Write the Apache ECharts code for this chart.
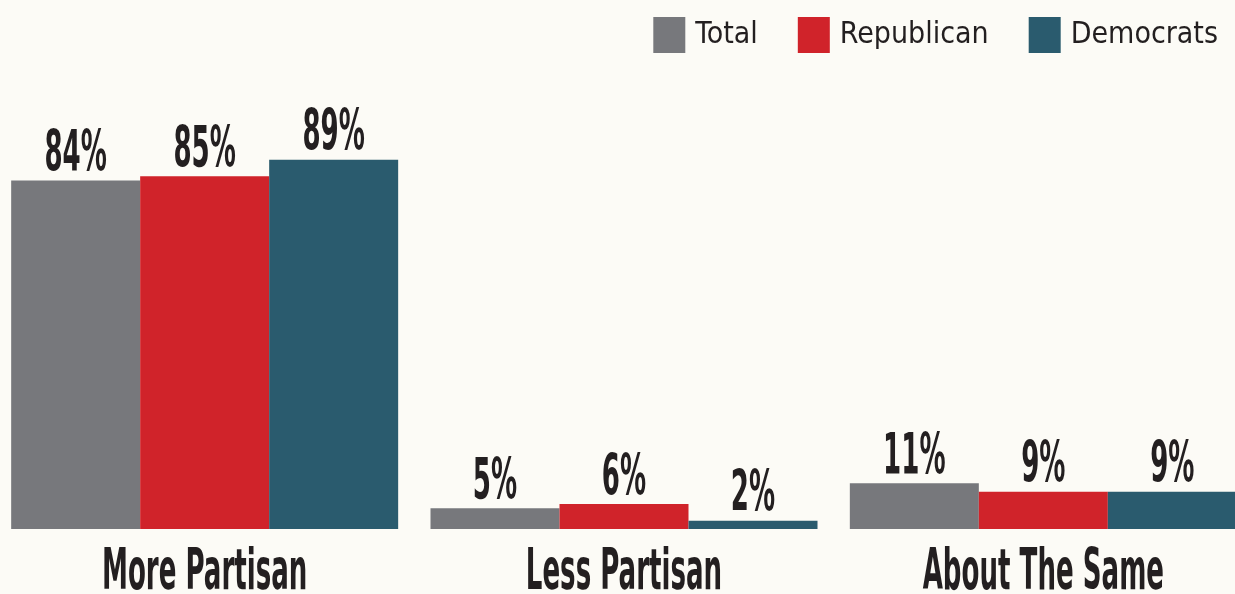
<!DOCTYPE html>
<html>
<head>
<meta charset="utf-8">
<script src="https://cdn.jsdelivr.net/npm/echarts@6/dist/echarts.min.js"></script>
<style>
  html, body { margin: 0; padding: 0; background: #fcfbf6; }
  #chart { width: 1235px; height: 594px; }
</style>
</head>
<body>
<div id="chart"></div>
<script>
// Survey answers: has politics become more or less partisan?
const categories = ['More Partisan', 'Less Partisan', 'About The Same'];
const seriesNames = ['Total', 'Republican', 'Democrats'];
const totalValues = [84, 5, 11];
const republicanValues = [85, 6, 9];
const democratValues = [89, 2, 9];

const valueSets = [totalValues, republicanValues, democratValues];
const colors = ['#77787c', '#d0232a', '#2a5b6e'];
const BAR_W = 129;
const TEXT = '#231f20';
const FONT = "'DejaVu Sans Condensed', 'Liberation Sans Narrow', sans-serif";
const STRETCH = 1.95;

const chart = echarts.init(document.getElementById('chart'));

// Bars for each group
const barSeries = seriesNames.map((name, i) => ({
  name: name,
  type: 'bar',
  barWidth: BAR_W,
  barGap: '0%',
  itemStyle: { color: colors[i] },
  data: valueSets[i],
  silent: true
}));

// Tall condensed value labels above each bar
const valueLabelSeries = seriesNames.map((name, i) => ({
  name: name + ' label',
  type: 'custom',
  silent: true,
  data: valueSets[i].map((v, c) => [c, v]),
  renderItem: function (params, api) {
    const p = api.coord([api.value(0), api.value(1)]);
    return {
      type: 'text',
      x: p[0] + (i - 1) * BAR_W,
      y: p[1] + 4,
      scaleY: STRETCH,
      style: {
        text: api.value(1) + '%',
        fill: TEXT,
        font: 'bold 29px ' + FONT,
        align: 'center',
        verticalAlign: 'bottom'
      }
    };
  }
}));

// Category names under each group
const categoryLabelSeries = {
  name: 'category labels',
  type: 'custom',
  silent: true,
  data: categories.map((c, idx) => [idx, 0]),
  renderItem: function (params, api) {
    const p = api.coord([api.value(0), 0]);
    return {
      type: 'text',
      x: p[0],
      y: p[1] + 17,
      scaleY: STRETCH,
      style: {
        text: categories[api.value(0)],
        fill: TEXT,
        font: 'bold 29px ' + FONT,
        align: 'center',
        verticalAlign: 'top'
      }
    };
  }
};

chart.setOption({
  backgroundColor: '#fcfbf6',
  animation: false,
  legend: {
    data: seriesNames,
    right: 12,
    top: 12,
    icon: 'rect',
    itemWidth: 32,
    itemHeight: 36,
    itemGap: 40,
    textStyle: {
      color: TEXT,
      fontFamily: FONT,
      fontSize: 30,
      padding: [0, 0, 0, 5]
    }
  },
  grid: { left: -5, width: 1258, top: 114, bottom: 65, outerBoundsMode: 'none' },
  xAxis: {
    type: 'category',
    data: categories,
    axisLine: { show: false },
    axisTick: { show: false },
    axisLabel: { show: false }
  },
  yAxis: {
    type: 'value',
    min: 0,
    max: 100,
    show: false,
    splitLine: { show: false }
  },
  series: [...barSeries, ...valueLabelSeries, categoryLabelSeries]
});
</script>
</body>
</html>
